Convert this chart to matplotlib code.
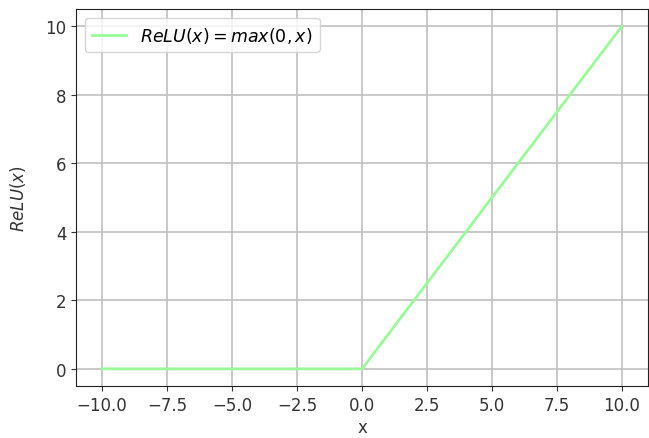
import matplotlib
matplotlib.use("Agg")
import matplotlib.pyplot as plt

x_vals = [-10, 0, 10]
relu_vals = [0, 0, 10]
x_ticks = [-10.0, -7.5, -5.0, -2.5, 0.0, 2.5, 5.0, 7.5, 10.0]
y_ticks = [0, 2, 4, 6, 8, 10]

plt.rcParams["font.size"] = 12
dpi = 100
fig = plt.figure(figsize=(649 / dpi, 439 / dpi), dpi=dpi)
ax = fig.add_axes([76 / 649, 1 - 387 / 439, (648 - 76) / 649, (387 - 10) / 439])
ax.plot(x_vals, relu_vals, color="palegreen", lw=2, label=r"$ReLU(x) = max(0, x)$")
ax.set_xticks(x_ticks)
ax.set_yticks(y_ticks)
ax.grid(True, color="#c0c0c0", lw=1.2)
ax.tick_params(colors="#333333", labelcolor="#333333")
for s in ax.spines.values():
    s.set_color("#222222")
ax.set_xlabel("x", color="#333333", labelpad=3)
ax.set_ylabel(r"$ReLU(x)$", color="#333333", labelpad=12)
ax.legend(loc="upper left", prop={"size": 12.5})
fig.savefig("out.png", dpi=dpi)
